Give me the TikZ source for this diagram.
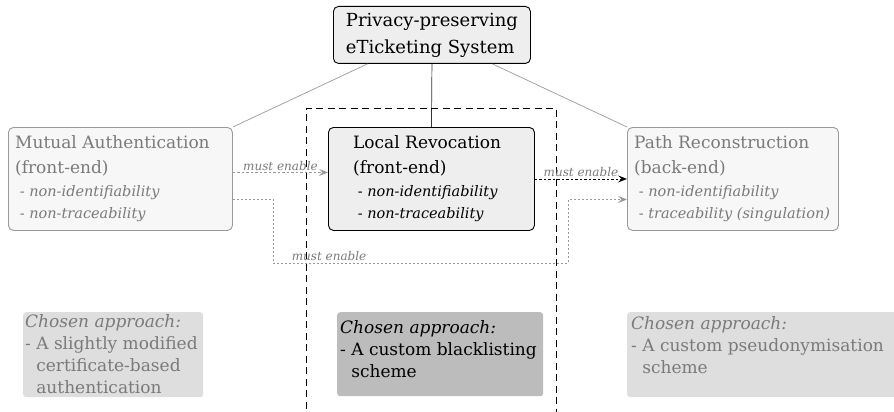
\documentclass[tikz,border=0pt]{standalone}
\usepackage{fontspec}
\setmainfont{DejaVu Serif}
\usetikzlibrary{arrows.meta,calc}
\definecolor{txtgray}{HTML}{7A7A7A}
\definecolor{bordgray}{HTML}{9A9A9A}
\definecolor{sidefill}{HTML}{F7F7F7}
\definecolor{mainfill}{HTML}{EEEEEE}
\definecolor{chosenside}{HTML}{DEDEDE}
\definecolor{chosenmid}{HTML}{BCBCBC}
\definecolor{arrgray}{HTML}{999999}
\newcommand\myTitle{\fontsize{17}{25}\selectfont}
\newcommand\myItem{\fontsize{14.5}{22.5}\selectfont}
\newcommand\myChosen{\fontsize{17}{22}\selectfont}
\newcommand\myLabel{\fontsize{12}{13}\selectfont\itshape}
\begin{document}
\begin{tikzpicture}[x=1pt,y=-1pt,
  rbox/.style={rounded corners=5pt, anchor=north west, inner sep=0pt},
  sidebox/.style={rbox, draw=bordgray, fill=sidefill, line width=0.9pt},
  mainbox/.style={rbox, draw=black, fill=mainfill, line width=0.9pt},
  boxtext/.style={anchor=west, align=left, inner sep=0pt, font=\myItem},
  chosenbox/.style={rounded corners=3pt, anchor=north west, inner sep=0pt},
  chosentext/.style={anchor=north west, align=left, inner sep=0pt, font=\myChosen},
  tree/.style={draw=arrgray, line width=0.7pt},
  elabel/.style={font=\myLabel, text=txtgray, inner sep=1.5pt},
  headtip/.style={-{Stealth[length=9pt,width=7pt,inset=3.5pt]}},
  ]
\clip (0,0) rectangle (894,412);
% top box
\node[mainbox, fill=mainfill, minimum width=197pt, minimum height=57pt,
  align=left, font=\fontsize{18}{27}\selectfont] (top) at (333,6)
  {Privacy-preserving\\eTicketing System};
% three boxes
\node[sidebox, minimum width=224pt, minimum height=103pt] (ma) at (8,127) {};
\node[mainbox, minimum width=206pt, minimum height=103pt] (lr) at (328,127) {};
\node[sidebox, minimum width=211pt, minimum height=103pt] (pr) at (627,127) {};
\node[boxtext, text=txtgray] (mat) at ([xshift=7pt]ma.west)
  {{\myTitle Mutual Authentication}\\[2.5pt]{\myTitle (front-end)}\\
   \ - \textit{non-identifiability}\\ \ - \textit{non-traceability}};
\node[boxtext] (lrt) at ([xshift=25pt]lr.west)
  {{\myTitle Local Revocation}\\[2.5pt]{\myTitle (front-end)}\\
   \ - \textit{non-identifiability}\\ \ - \textit{non-traceability}};
\node[boxtext, text=txtgray] (prt) at ([xshift=7pt]pr.west)
  {{\myTitle Path Reconstruction}\\[2.5pt]{\myTitle (back-end)}\\
   \ - \textit{non-identifiability}\\ \ - \textit{traceability (singulation)}};
% tree lines
\draw[tree] ([xshift=-64.5pt]top.south) -- (ma.north east);
\draw[tree] ([xshift=60.5pt]top.south) -- (pr.north west);
\draw[draw=black!80, line width=0.7pt] (top.south) -- (lr.north);
% dashed frame
\draw[line width=1pt, dash pattern=on 7pt off 4.5pt] (306,420) -- (306,108) -- (556,108) -- (556,420);
% arrows
\draw[arrgray, line width=0.8pt, dash pattern=on 2.5pt off 2pt, headtip]
  ([yshift=6.5pt]ma.east) -- node[elabel, above] (l1) {must enable} ([yshift=6.5pt]ma.east -| lr.west);
\draw[black, line width=0.8pt, dash pattern=on 2.5pt off 2pt, headtip]
  (lr.east) -- node[elabel, above] (l2) {must enable} (lr.east -| pr.west);
\coordinate (c1) at (273,263);
\coordinate (c2) at (568,263);
\draw[arrgray, line width=0.8pt, dash pattern=on 2pt off 2pt, headtip]
  ([yshift=-20.5pt]ma.east) -| (c1) -- node[elabel, above, pos=0.19] (l3) {must enable} (c2)
  |- ([yshift=-20.5pt]pr.west);
% chosen approach boxes
\node[chosenbox, fill=chosenside, minimum width=180pt, minimum height=85pt] (cl) at (23,312) {};
\node[chosenbox, fill=chosenmid, minimum width=206pt, minimum height=84pt] (cm) at (337,312) {};
\node[chosenbox, fill=chosenside, minimum width=280pt, minimum height=85pt] (cr) at (627,312) {};
\node[chosentext, text=txtgray] (clt) at (25,314)
  {\textit{Chosen approach:}\\ - A slightly modified\\ \phantom{- }certificate-based\\ \phantom{- }authentication};
\node[chosentext] (cmt) at (340,320)
  {\textit{Chosen approach:}\\ - A custom blacklisting\\ \phantom{- }scheme};
\node[chosentext, text=txtgray] (crt) at (631,316)
  {\textit{Chosen approach:}\\ - A custom pseudonymisation\\ \phantom{- }scheme};
\end{tikzpicture}
\end{document}
